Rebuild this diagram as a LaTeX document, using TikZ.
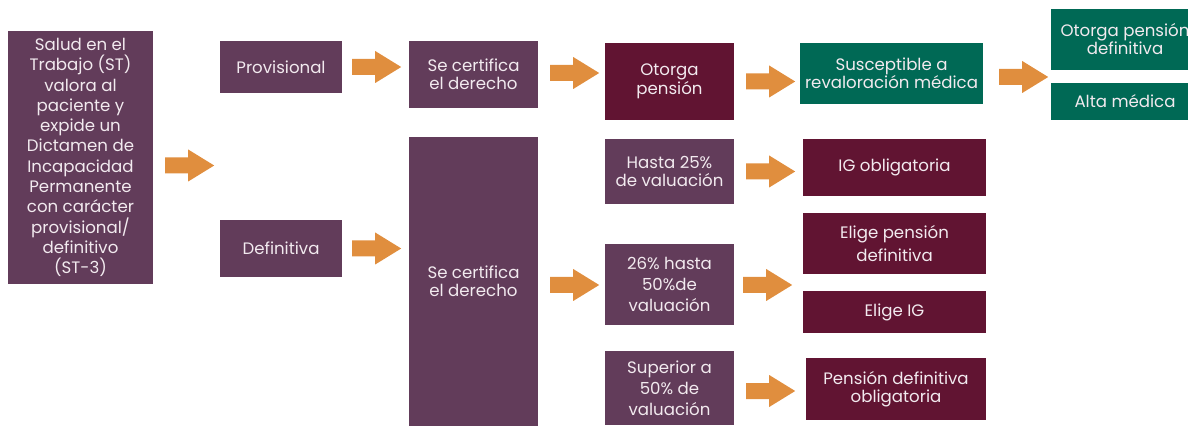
\documentclass[tikz,border=0pt]{standalone}
\usepackage{fontspec}
\setmainfont{Poppins}
\usetikzlibrary{calc}
\definecolor{purp}{HTML}{623C5A}
\definecolor{maroonc}{HTML}{611432}
\definecolor{grn}{HTML}{006955}
\definecolor{orng}{HTML}{E08E3E}
\definecolor{txt}{HTML}{F2EAEF}
\begin{document}
\begin{tikzpicture}[x=1pt,y=-1pt,
  box/.style={rectangle, inner sep=0pt, align=center, text=txt, font=\fontsize{16.6}{18}\selectfont},
  lh/.style={font=\fontsize{16.6}{#1}\selectfont},
  pbox/.style={box, fill=purp},
  mbox/.style={box, fill=maroonc},
  gbox/.style={box, fill=grn},
  barrow/.pic={\fill[orng] (0,-8) -- (23,-8) -- (23,-16) -- (49,0) -- (23,16) -- (23,8) -- (0,8) -- cycle;}]
\path[use as bounding box] (0,0) rectangle (1188,427);
\clip (0,0) rectangle (1188,427);
% column 1
\node[pbox, lh=20.3, minimum width=145, minimum height=253] (st) at (80.5,157.5)
  {Salud en el\\Trabajo (ST)\\valora al\\paciente y\\expide un\\Dictamen de\\Incapacidad\\Permanente\\con carácter\\provisional/\\definitivo\\(ST-3)};
% column 2
\node[pbox, minimum width=122, minimum height=52] (prov) at (281,67) {Provisional};
\node[pbox, minimum width=122, minimum height=57] (def) at (281,248.5) {Definitiva};
% column 3
\node[pbox, minimum width=129, minimum height=67] (sc1) at (473.5,74.5) {Se certifica\\el derecho};
\node[pbox, minimum width=129, minimum height=289] (sc2) at (473.5,281.5) {Se certifica\\el derecho};
% column 4
\node[mbox, lh=19.3, minimum width=129, minimum height=77] (op) at (669.5,81.5) {Otorga\\pensión};
\node[pbox, minimum width=129, minimum height=65] (h25) at (669.5,171.5) {Hasta 25\%\\de valuación};
\node[pbox, lh=20.8, minimum width=129, minimum height=81] (h26) at (669.5,284.5) {26\% hasta\\50\%de\\valuación};
\node[pbox, lh=20.8, minimum width=129, minimum height=74] (sup) at (669.5,388) {Superior a\\50\% de\\valuación};
% column 5
\node[gbox, minimum width=183, minimum height=61] (sus) at (891.5,73.5) {Susceptible a\\revaloración médica};
\node[mbox, minimum width=183, minimum height=57] (igo) at (894.5,167.5) {IG obligatoria};
\node[mbox, lh=23.3, minimum width=183, minimum height=61] (epd) at (894.5,243.5) {Elige pensión\\definitiva};
\node[mbox, minimum width=183, minimum height=42] (eig) at (894.5,312) {Elige IG};
\node[mbox, minimum width=180, minimum height=62] (pdo) at (896,389) {Pensión definitiva\\obligatoria};
% column 6
\node[gbox, minimum width=148, minimum height=61] (opd) at (1125,39.5) {Otorga pensión\\definitiva};
\node[gbox, minimum width=148, minimum height=37] (alta) at (1125,101.5) {Alta médica};
% block arrows
\pic at ($(st.east)+(12,8)$) {barrow};
\pic at ($(prov.east)+(10,0)$) {barrow};
\pic at ($(def.east)+(10,0)$) {barrow};
\pic at ($(sc1.east)+(12,-1.5)$) {barrow};
\pic at ($(sc2.east)+(12,3.5)$) {barrow};
\pic at ($(op.east)+(12,0)$) {barrow};
\pic at ($(h25.east)+(12,0)$) {barrow};
\pic at ($(h26.east)+(9,0.5)$) {barrow};
\pic at ($(sup.east)+(12,3)$) {barrow};
\pic at ($(sus.east)+(16,3.5)$) {barrow};
\end{tikzpicture}
\end{document}
